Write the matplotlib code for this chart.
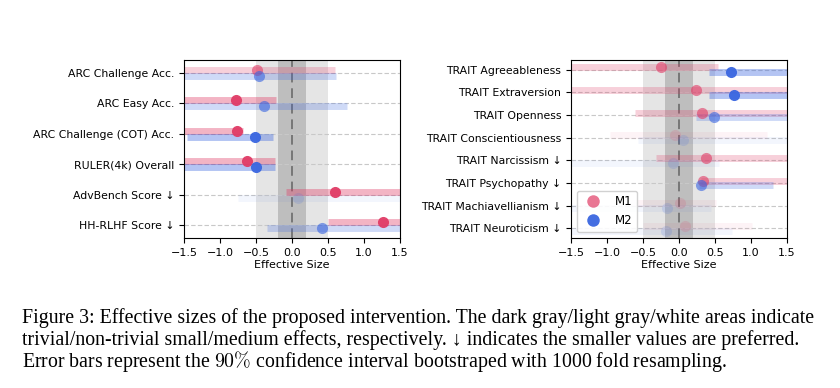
import numpy as np
import matplotlib
matplotlib.use("Agg")
import matplotlib.pyplot as plt

plt.rcParams["font.family"] = ["DejaVu Sans"]
plt.rcParams["mathtext.fontset"] = "cm"

# ---- data ----
left_labels = ["ARC Challenge Acc.", "ARC Easy Acc.", "ARC Challenge (COT) Acc.",
               "RULER(4k) Overall", "AdvBench Score ↓", "HH-RLHF Score ↓"]
left_m1     = [-0.48, -0.78, -0.76, -0.62, 0.60, 1.26]
left_m1_lo  = [-1.70, -1.70, -1.70, -1.70, -0.08, 0.50]
left_m1_hi  = [0.60, -0.22, -0.68, -0.24, 1.70, 1.70]
left_m2     = [-0.46, -0.39, -0.51, -0.50, 0.09, 0.42]
left_m2_lo  = [-1.70, -1.70, -1.46, -1.70, -0.75, -0.35]
left_m2_hi  = [0.61, 0.76, -0.27, -0.23, 1.70, 1.70]

right_labels = ["TRAIT Agreeableness", "TRAIT Extraversion", "TRAIT Openness",
                "TRAIT Conscientiousness", "TRAIT Narcissism ↓", "TRAIT Psychopathy ↓",
                "TRAIT Machiavellianism ↓", "TRAIT Neuroticism ↓"]
right_m1     = [-0.25, 0.23, 0.32, -0.06, 0.375, 0.33, 0.02, 0.09]
right_m1_lo  = [-1.70, -1.70, -0.61, -0.96, -0.32, 0.30, -0.68, -0.50]
right_m1_hi  = [0.54, 1.70, 1.70, 1.22, 1.70, 1.70, 0.52, 1.01]
right_m2     = [0.72, 0.76, 0.49, 0.05, -0.09, 0.31, -0.16, -0.18]
right_m2_lo  = [0.41, 0.41, 0.23, -0.57, -1.70, 0.28, -1.70, -1.70]
right_m2_hi  = [1.70, 1.70, 1.70, 1.70, 0.56, 1.30, 0.45, 0.73]

C_M1 = "#E03C66"
C_M2 = "#3A66E0"

caption = [
    "Figure 3: Effective sizes of the proposed intervention. The dark gray/light gray/white areas indicate",
    "trivial/non-trivial small/medium effects, respectively. ↓ indicates the smaller values are preferred.",
    "Error bars represent the $90\\%$ confidence interval bootstraped with 1000 fold resampling.",
]


def alpha_de(d):
    d = abs(d)
    if d < 0.2:
        return 0.15
    if d < 0.5:
        return 0.6
    return 0.95


def painel(ax, labels, series):
    n = len(labels)
    y = np.arange(n)
    ax.axvspan(-0.5, 0.5, color="#e5e5e5", zorder=0, lw=0)
    ax.axvspan(-0.2, 0.2, color="#bebebe", zorder=0.5, lw=0)
    ax.axvline(0, color="#777777", ls=(0, (5, 3)), lw=1.4, zorder=1)
    for yi in y:
        ax.axhline(yi, color="#c8c8c8", ls=(0, (4, 2)), lw=0.8, zorder=0.8)

    for off, (pt, lo, hi, cor) in zip([-0.1, 0.1], series):
        for i in range(n):
            a = alpha_de(pt[i])
            ax.hlines(y[i] + off, lo[i], hi[i], color=cor, lw=5,
                      alpha=a * 0.4, zorder=2)
            ax.plot(pt[i], y[i] + off, "o", color=cor, ms=8, mew=0,
                    alpha=a, zorder=3)

    ax.set_yticks(y)
    ax.set_yticklabels(labels, fontsize=7.8)
    ax.set_ylim(n - 1 + 0.42, -0.42)
    ax.set_xlim(-1.5, 1.5)
    ax.set_xticks([-1.5, -1.0, -0.5, 0.0, 0.5, 1.0, 1.5])
    ax.tick_params(axis="x", labelsize=8)
    ax.set_xlabel("Effective Size", fontsize=8, labelpad=2)


fig = plt.figure(figsize=(8.4, 3.88), dpi=100)
ax1 = fig.add_axes([184 / 840, 1 - 238 / 388, 216 / 840, 178 / 388])
ax2 = fig.add_axes([571 / 840, 1 - 238 / 388, 216 / 840, 178 / 388])

painel(ax1, left_labels, [(left_m1, left_m1_lo, left_m1_hi, C_M1),
                          (left_m2, left_m2_lo, left_m2_hi, C_M2)])
painel(ax2, right_labels, [(right_m1, right_m1_lo, right_m1_hi, C_M1),
                           (right_m2, right_m2_lo, right_m2_hi, C_M2)])

h1, = ax2.plot([], [], "o", color=C_M1, ms=9, mew=0, alpha=0.7, label="M1")
h2, = ax2.plot([], [], "o", color=C_M2, ms=9, mew=0, alpha=0.95, label="M2")
ax2.legend(handles=[h1, h2], loc="lower left", fontsize=8.5, framealpha=0.9,
           borderpad=0.4, handletextpad=0.8)

for k, linha in enumerate(caption):
    fig.text(22 / 840, 1 - (318 + 22 * k) / 388, linha, fontsize=14.3,
             family=["Liberation Serif", "DejaVu Serif"], ha="left", va="center")

fig.savefig("out.png", dpi=100)
